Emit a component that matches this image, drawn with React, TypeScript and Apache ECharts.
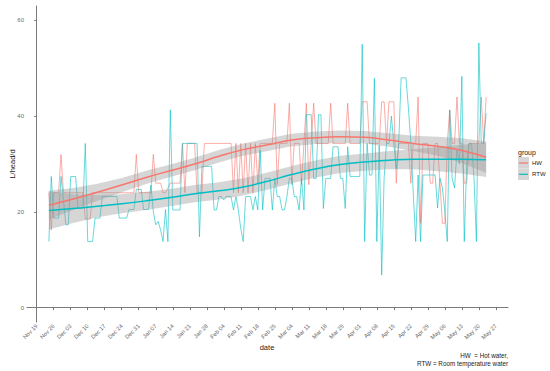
import React, { useEffect, useRef } from "react";
import * as echarts from "echarts";

// x positions are days since Nov 19 (2017)
const tickLabels = [
  "Nov 19", "Nov 26", "Dec 03", "Dec 10", "Dec 17", "Dec 24", "Dec 31",
  "Jan 07", "Jan 14", "Jan 21", "Jan 28", "Feb 04", "Feb 11", "Feb 18",
  "Feb 25", "Mar 04", "Mar 11", "Mar 18", "Mar 25", "Apr 01", "Apr 08",
  "Apr 15", "Apr 22", "Apr 29", "May 06", "May 13", "May 20", "May 27",
];
const tickDays = tickLabels.map((_, i) => i * 7);
const yTicks = [0, 20, 40, 60];
const firstDay = 5; // Nov 24

const hwValues = [
  24, 16.2, 24, 24, 24,
  32, 24, 24, 24, 24,
  24, 24, 24, 24, 24,
  18.5, 18.5, 18.5, 24, 24,
  24, 24, 24, 24, 24,
  24, 24, 24, 24, 24,
  24, 24, 24, 24, 24,
  24, 32, 24, 24, 24,
  24, 24, 24, 32, 26,
  26, 26, 24, 24, 25,
  26, 26, 26, 26, 26,
  34.3, 24, 34.3, 34.3, 34.3,
  34.3, 24, 24, 24, 34.3,
  34.3, 34.3, 34.3, 34.3, 34.3,
  34.3, 34.3, 34.3, 34.3, 34.3,
  34.3, 24, 34.3, 24, 34.3,
  24, 34.3, 24, 34.3, 24,
  34.3, 26, 34.3, 34.3, 34.3,
  34.3, 34.3, 34.3, 42.7, 25.7,
  34.3, 34.3, 34.3, 34.3, 42.7,
  25.7, 34.3, 34.3, 34.3, 25.7,
  34.3, 42.7, 25.7, 34.3, 42.7,
  34.3, 34.3, 34.3, 34.3, 34.3,
  34.3, 42.7, 34.3, 34.3, 34.3,
  34.3, 34.3, 34.3, 42.7, 34.3,
  34.3, 34.3, 34.3, 34.3, 43,
  43, 43, 34.3, 34.3, 34.3,
  34.3, 34.3, 43, 43, 34.3,
  43, 43, 43, 26, 34.3,
  34.3, 34.3, 34.3, 34.3, 26,
  34.3, 34.3, 44, 17.6, 34.3,
  34.3, 34.3, 26, 26, 34.3,
  34.3, 26, 17.6, 17.6, 34.3,
  41.3, 34.3, 34.3, 44, 34.3,
  34.3, 26, 26, 34.3, 34.3,
  34.3, 34.3, 34.3, 44, 34.3,
  44,
];

const rtwValues = [
  13.8, 27.4, 18.7, 18.7, 18.7,
  27.4, 22.5, 17.3, 17.3, 27.4,
  27.4, 27.4, 20.8, 20.8, 20.8,
  34.3, 13.8, 13.8, 13.8, 18.7,
  18.7, 18.7, 23.2, 23.2, 23.2,
  23.2, 23.2, 23.2, 23.2, 18.7,
  18.7, 18.7, 18.7, 20.5, 20.5,
  20.5, 24.7, 24.7, 24.7, 20.5,
  20.5, 20.5, 25.6, 20, 17.3,
  18, 16.2, 13.8, 20.5, 13.8,
  41.3, 20.4, 20.4, 20.4, 20.4,
  34.3, 34.3, 34.3, 34.3, 34.3,
  34.3, 34.3, 14.8, 29.5, 29.5,
  29.5, 29.5, 29.5, 20.4, 20.4,
  23.2, 23.2, 22.5, 23.2, 23.2,
  23.2, 20.4, 23.2, 20.4, 16.5,
  13.8, 23.2, 23.2, 23.2, 20.4,
  23.2, 20.4, 32.9, 20.4, 27,
  27, 27, 20.4, 27, 23.2,
  23.2, 20.4, 20.4, 23.2, 27,
  27, 23.2, 23.2, 20.4, 27,
  20.4, 40.3, 40.3, 40.3, 27,
  27, 40.3, 40.3, 20.7, 27,
  27, 27, 33.6, 33.6, 33.6,
  27, 27, 20.7, 33.6, 27.4,
  27.4, 27.4, 27.4, 27.4, 55,
  13.8, 34.3, 27.7, 27.7, 47.9,
  13.8, 34, 6.8, 27, 34.3,
  34.3, 40, 34.3, 29, 34.3,
  48, 48, 48, 41.7, 34.3,
  24, 13.8, 27.7, 13.8, 27.7,
  27.7, 27.7, 27.7, 27.7, 27.7,
  20.8, 27, 25, 20, 13.8,
  41.3, 27, 25, 33, 30,
  48.3, 13.8, 30, 34.3, 34.3,
  27, 13.8, 55.3, 34.3, 34.3,
  40.6,
];

// loess fits and their confidence limits
const smoothDays = [5, 15, 25, 35, 45, 55, 65, 75, 85, 95, 105, 115, 125, 135, 145, 155, 165, 175, 185];
const hwFit = [21.4, 22.7, 24.1, 25.6, 27.2, 28.6, 30.0, 31.6, 33.0, 34.0, 35.0, 35.5, 35.7, 35.6, 35.0, 34.3, 33.7, 32.8, 31.4];
const hwLow = [18.4, 20.4, 22.3, 24.1, 25.8, 27.3, 28.7, 30.3, 31.7, 32.7, 33.7, 34.2, 34.4, 34.3, 33.6, 32.7, 31.7, 30.2, 28.1];
const hwHigh = [24.4, 25.0, 25.9, 27.1, 28.6, 29.9, 31.3, 32.9, 34.3, 35.3, 36.3, 36.8, 37.0, 36.9, 36.4, 35.9, 35.7, 35.4, 34.7];
const rtwFit = [20.3, 20.7, 21.2, 21.7, 22.3, 23.0, 23.8, 24.4, 25.2, 26.4, 27.8, 29.0, 29.9, 30.4, 30.8, 31.0, 31.0, 31.0, 30.9];
const rtwLow = [16.3, 17.7, 18.9, 19.7, 20.4, 21.2, 22.0, 22.6, 23.4, 24.6, 26.0, 27.2, 28.1, 28.6, 28.9, 28.9, 28.5, 28.0, 27.3];
const rtwHigh = [24.3, 23.7, 23.5, 23.7, 24.2, 24.8, 25.6, 26.2, 27.0, 28.2, 29.6, 30.8, 31.7, 32.2, 32.7, 33.1, 33.5, 34.0, 34.5];

const HW_COLOR = "#F8766D";
const RTW_COLOR = "#00BFC4";
const RIBBON = "rgba(153,153,153,0.4)";
const FONT = "Liberation Sans, Arial, sans-serif";

function rawSeries(name: string, vals: number[], color: string) {
  return {
    name,
    type: "line",
    data: vals.map((v, i) => [firstDay + i, v]),
    showSymbol: false,
    symbol: "none",
    lineStyle: { color, width: 0.8, opacity: 0.75 },
    z: 2,
  };
}

function bandSeries(key: string, low: number[], high: number[]) {
  return {
    name: key,
    type: "custom",
    data: smoothDays.map((d, i) => [d, low[i], high[i]]),
    z: 3,
    silent: true,
    renderItem: (params: any, api: any) => {
      if (params.dataIndex !== 0) return null;
      const upper = smoothDays.map((d, i) => api.coord([d, high[i]]));
      const lower = smoothDays.map((d, i) => api.coord([d, low[i]])).reverse();
      return {
        type: "polygon",
        shape: { points: upper.concat(lower) },
        style: { fill: RIBBON, stroke: "none" },
      };
    },
  };
}

function fitSeries(name: string, fit: number[], color: string) {
  return {
    name,
    type: "line",
    smooth: true,
    symbol: "none",
    data: smoothDays.map((d, i) => [d, fit[i]]),
    lineStyle: { color, width: 1.5 },
    z: 4,
  };
}

export default function App() {
  const ref = useRef<HTMLDivElement>(null);
  useEffect(() => {
    if (!ref.current) return;
    const chart = echarts.init(ref.current, null, { renderer: "svg" });
    const axisColor = "#7a7a7a";
    chart.setOption({
      animation: false,
      backgroundColor: "#ffffff",
      grid: { left: 27, top: 6, width: 481, height: 316, containLabel: false },
      xAxis: {
        type: "value",
        min: -4,
        max: 194,
        axisLine: { show: true, lineStyle: { color: axisColor, width: 1 } },
        axisTick: { show: true, customValues: tickDays, length: 2.5, lineStyle: { color: axisColor } },
        splitLine: { show: false },
        axisLabel: {
          customValues: tickDays,
          rotate: 45,
          fontSize: 5.8,
          color: "#6b6b6b",
          fontFamily: FONT,
          margin: 3,
          formatter: (v: number) => tickLabels[Math.round(v / 7)] ?? "",
        },
      },
      yAxis: {
        type: "value",
        min: -3,
        max: 63,
        axisLine: { show: true, lineStyle: { color: axisColor, width: 1 } },
        axisTick: { show: true, customValues: yTicks, length: 2.5, lineStyle: { color: axisColor } },
        splitLine: { show: false },
        axisLabel: {
          customValues: yTicks,
          fontSize: 6,
          color: "#6b6b6b",
          fontFamily: FONT,
          margin: 3,
        },
      },
      series: [
        rawSeries("HW", hwValues, HW_COLOR),
        rawSeries("RTW", rtwValues, RTW_COLOR),
        bandSeries("HW se", hwLow, hwHigh),
        bandSeries("RTW se", rtwLow, rtwHigh),
        fitSeries("HW fit", hwFit, HW_COLOR),
        fitSeries("RTW fit", rtwFit, RTW_COLOR),
      ],
      graphic: [
        {
          type: "text",
          x: 12,
          y: 164,
          rotation: Math.PI / 2,
          style: { text: "L/head/d", fontSize: 7.5, fill: "#222", fontFamily: FONT, align: "center", verticalAlign: "middle" },
        },
        {
          type: "text",
          x: 267,
          y: 347,
          style: { text: "date", fontSize: 7.5, fill: "#222", fontFamily: FONT, align: "center", verticalAlign: "middle" },
        },
        {
          type: "text",
          x: 508,
          y: 355,
          style: { text: "HW  = Hot water,", fontSize: 6.3, fill: "#222", fontFamily: FONT, align: "right", verticalAlign: "middle" },
        },
        {
          type: "text",
          x: 508,
          y: 363,
          style: { text: "RTW = Room temperature water", fontSize: 6.3, fill: "#222", fontFamily: FONT, align: "right", verticalAlign: "middle" },
        },
        {
          type: "text",
          x: 518,
          y: 152,
          style: { text: "group", fontSize: 7, fill: "#222", fontFamily: FONT, align: "left", verticalAlign: "middle" },
        },
        { type: "rect", shape: { x: 518, y: 157, width: 11, height: 11.5 }, style: { fill: "#d6d6d6" } },
        { type: "rect", shape: { x: 518, y: 168.5, width: 11, height: 11.5 }, style: { fill: "#d6d6d6" } },
        { type: "line", shape: { x1: 519, y1: 163, x2: 528, y2: 163 }, style: { stroke: HW_COLOR, lineWidth: 1.2 } },
        { type: "line", shape: { x1: 519, y1: 174.3, x2: 528, y2: 174.3 }, style: { stroke: RTW_COLOR, lineWidth: 1.2 } },
        {
          type: "text",
          x: 532,
          y: 163,
          style: { text: "HW", fontSize: 6, fill: "#222", fontFamily: FONT, align: "left", verticalAlign: "middle" },
        },
        {
          type: "text",
          x: 532,
          y: 174.3,
          style: { text: "RTW", fontSize: 6, fill: "#222", fontFamily: FONT, align: "left", verticalAlign: "middle" },
        },
      ],
    });
    return () => chart.dispose();
  }, []);
  return <div ref={ref} style={{ position: "fixed", left: 0, top: 0, width: 550, height: 371 }} />;
}
